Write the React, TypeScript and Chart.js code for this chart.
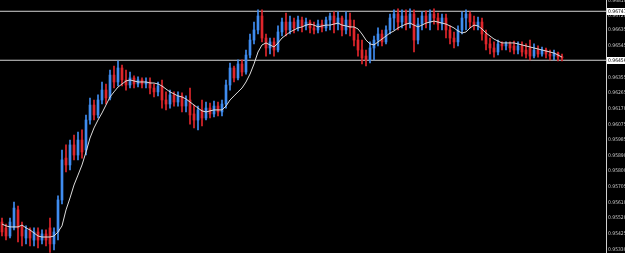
import React, { useEffect, useRef } from 'react';
import { Chart, registerables } from 'chart.js';

Chart.register(...registerables);

// Candle data (price), one candle per index
const opens = [
  0.95495, 0.95460, 0.95412, 0.95460, 0.95567, 0.95472, 0.95400, 0.95448, 0.95388, 0.95436,
  0.95388, 0.95424, 0.95460, 0.95365, 0.95436, 0.95626, 0.95875, 0.95834, 0.95953, 0.95893,
  0.95982, 0.95923, 0.96101, 0.96190, 0.96131, 0.96220, 0.96279, 0.96232, 0.96368, 0.96327,
  0.96410, 0.96339, 0.96309, 0.96351, 0.96315, 0.96339, 0.96315, 0.96327, 0.96291, 0.96268,
  0.96303, 0.96220, 0.96196, 0.96250, 0.96208, 0.96244, 0.96184, 0.96220, 0.96137, 0.96101,
  0.96161, 0.96113, 0.96172, 0.96137, 0.96184, 0.96149, 0.96196, 0.96309, 0.96410, 0.96351,
  0.96434, 0.96386, 0.96487, 0.96576, 0.96636, 0.96719, 0.96588, 0.96529, 0.96565, 0.96517,
  0.96624, 0.96683, 0.96636, 0.96683, 0.96648, 0.96695, 0.96660, 0.96683, 0.96648, 0.96636,
  0.96671, 0.96648, 0.96695, 0.96719, 0.96671, 0.96707, 0.96636, 0.96695, 0.96648, 0.96576,
  0.96517, 0.96481, 0.96458, 0.96529, 0.96576, 0.96612, 0.96565, 0.96636, 0.96707, 0.96731,
  0.96683, 0.96719, 0.96671, 0.96731, 0.96576, 0.96671, 0.96719, 0.96683, 0.96731, 0.96707,
  0.96671, 0.96707, 0.96636, 0.96588, 0.96565, 0.96636, 0.96707, 0.96731, 0.96683, 0.96660,
  0.96683, 0.96612, 0.96553, 0.96529, 0.96505, 0.96553, 0.96541, 0.96553, 0.96541, 0.96517,
  0.96541, 0.96517, 0.96529, 0.96481, 0.96517, 0.96493, 0.96517, 0.96493, 0.96481, 0.96499,
  0.96475,
];
const highs = [
  0.95519, 0.95483, 0.95519, 0.95614, 0.95590, 0.95495, 0.95472, 0.95460, 0.95460, 0.95460,
  0.95448, 0.95448, 0.95519, 0.95460, 0.95650, 0.95923, 0.95953, 0.95982, 0.96012, 0.96030,
  0.96042, 0.96131, 0.96232, 0.96220, 0.96250, 0.96327, 0.96315, 0.96398, 0.96422, 0.96452,
  0.96428, 0.96398, 0.96386, 0.96363, 0.96357, 0.96351, 0.96351, 0.96351, 0.96315, 0.96327,
  0.96339, 0.96268, 0.96279, 0.96268, 0.96268, 0.96262, 0.96244, 0.96291, 0.96190, 0.96184,
  0.96220, 0.96208, 0.96202, 0.96214, 0.96208, 0.96220, 0.96339, 0.96440, 0.96422, 0.96458,
  0.96458, 0.96517, 0.96612, 0.96683, 0.96755, 0.96755, 0.96612, 0.96588, 0.96588, 0.96660,
  0.96707, 0.96737, 0.96719, 0.96707, 0.96719, 0.96713, 0.96707, 0.96695, 0.96683, 0.96695,
  0.96695, 0.96713, 0.96737, 0.96743, 0.96743, 0.96719, 0.96743, 0.96737, 0.96695, 0.96612,
  0.96576, 0.96517, 0.96565, 0.96600, 0.96648, 0.96636, 0.96660, 0.96731, 0.96755, 0.96761,
  0.96755, 0.96755, 0.96761, 0.96755, 0.96707, 0.96743, 0.96749, 0.96755, 0.96761, 0.96737,
  0.96731, 0.96731, 0.96660, 0.96624, 0.96660, 0.96743, 0.96755, 0.96743, 0.96719, 0.96713,
  0.96707, 0.96636, 0.96588, 0.96565, 0.96576, 0.96565, 0.96565, 0.96565, 0.96570, 0.96565,
  0.96565, 0.96553, 0.96576, 0.96553, 0.96541, 0.96535, 0.96529, 0.96517, 0.96517, 0.96505,
  0.96493,
];
const lows = [
  0.95412, 0.95388, 0.95400, 0.95448, 0.95377, 0.95353, 0.95365, 0.95353, 0.95353, 0.95341,
  0.95365, 0.95353, 0.95315, 0.95329, 0.95388, 0.95602, 0.95792, 0.95804, 0.95864, 0.95864,
  0.95875, 0.95893, 0.96077, 0.96101, 0.96113, 0.96196, 0.96196, 0.96220, 0.96291, 0.96303,
  0.96303, 0.96279, 0.96291, 0.96291, 0.96297, 0.96291, 0.96291, 0.96256, 0.96238, 0.96244,
  0.96172, 0.96161, 0.96172, 0.96184, 0.96184, 0.96149, 0.96149, 0.96077, 0.96054, 0.96042,
  0.96066, 0.96101, 0.96113, 0.96119, 0.96125, 0.96125, 0.96172, 0.96279, 0.96327, 0.96339,
  0.96363, 0.96374, 0.96470, 0.96553, 0.96612, 0.96565, 0.96481, 0.96493, 0.96481, 0.96505,
  0.96600, 0.96600, 0.96612, 0.96618, 0.96630, 0.96624, 0.96636, 0.96618, 0.96612, 0.96618,
  0.96624, 0.96630, 0.96636, 0.96618, 0.96636, 0.96600, 0.96612, 0.96600, 0.96541, 0.96481,
  0.96434, 0.96422, 0.96440, 0.96458, 0.96541, 0.96541, 0.96553, 0.96612, 0.96636, 0.96636,
  0.96648, 0.96636, 0.96648, 0.96505, 0.96553, 0.96636, 0.96648, 0.96636, 0.96671, 0.96636,
  0.96636, 0.96588, 0.96553, 0.96529, 0.96541, 0.96612, 0.96636, 0.96648, 0.96636, 0.96636,
  0.96576, 0.96517, 0.96493, 0.96475, 0.96487, 0.96517, 0.96517, 0.96505, 0.96493, 0.96493,
  0.96481, 0.96470, 0.96458, 0.96470, 0.96475, 0.96481, 0.96470, 0.96458, 0.96458, 0.96452,
  0.96452,
];
const closes = [
  0.95436, 0.95412, 0.95495, 0.95578, 0.95460, 0.95412, 0.95448, 0.95400, 0.95436, 0.95388,
  0.95424, 0.95388, 0.95365, 0.95436, 0.95626, 0.95864, 0.95834, 0.95953, 0.95893, 0.95982,
  0.95911, 0.96101, 0.96190, 0.96131, 0.96220, 0.96279, 0.96232, 0.96368, 0.96327, 0.96410,
  0.96339, 0.96309, 0.96351, 0.96315, 0.96339, 0.96315, 0.96327, 0.96291, 0.96268, 0.96303,
  0.96220, 0.96196, 0.96250, 0.96208, 0.96244, 0.96184, 0.96220, 0.96131, 0.96101, 0.96161,
  0.96113, 0.96172, 0.96137, 0.96184, 0.96149, 0.96196, 0.96309, 0.96410, 0.96351, 0.96434,
  0.96386, 0.96487, 0.96576, 0.96636, 0.96719, 0.96588, 0.96529, 0.96565, 0.96517, 0.96624,
  0.96683, 0.96636, 0.96683, 0.96648, 0.96695, 0.96660, 0.96683, 0.96648, 0.96636, 0.96671,
  0.96648, 0.96695, 0.96719, 0.96671, 0.96707, 0.96636, 0.96695, 0.96648, 0.96576, 0.96517,
  0.96470, 0.96458, 0.96529, 0.96576, 0.96612, 0.96565, 0.96636, 0.96707, 0.96731, 0.96683,
  0.96719, 0.96671, 0.96731, 0.96576, 0.96671, 0.96719, 0.96683, 0.96731, 0.96707, 0.96671,
  0.96707, 0.96636, 0.96588, 0.96565, 0.96636, 0.96707, 0.96731, 0.96683, 0.96660, 0.96683,
  0.96612, 0.96553, 0.96529, 0.96505, 0.96553, 0.96541, 0.96553, 0.96529, 0.96517, 0.96541,
  0.96505, 0.96493, 0.96481, 0.96517, 0.96493, 0.96517, 0.96493, 0.96481, 0.96499, 0.96475,
  0.96470,
];
// Moving average (white line)
const maValues = [
  0.95483, 0.95472, 0.95466, 0.95466, 0.95466, 0.95477, 0.95460, 0.95448, 0.95430, 0.95412,
  0.95406, 0.95406, 0.95406, 0.95412, 0.95436, 0.95472, 0.95567, 0.95638, 0.95715, 0.95774,
  0.95834, 0.95911, 0.95994, 0.96054, 0.96101, 0.96143, 0.96190, 0.96238, 0.96268, 0.96297,
  0.96315, 0.96333, 0.96339, 0.96333, 0.96327, 0.96327, 0.96327, 0.96321, 0.96321, 0.96315,
  0.96303, 0.96285, 0.96268, 0.96256, 0.96244, 0.96238, 0.96226, 0.96208, 0.96190, 0.96172,
  0.96155, 0.96149, 0.96155, 0.96161, 0.96161, 0.96161, 0.96184, 0.96220, 0.96244, 0.96268,
  0.96291, 0.96327, 0.96374, 0.96434, 0.96505, 0.96547, 0.96559, 0.96547, 0.96535, 0.96559,
  0.96588, 0.96606, 0.96624, 0.96636, 0.96648, 0.96654, 0.96665, 0.96671, 0.96665, 0.96654,
  0.96660, 0.96665, 0.96665, 0.96671, 0.96677, 0.96665, 0.96660, 0.96654, 0.96654, 0.96642,
  0.96612, 0.96576, 0.96553, 0.96547, 0.96565, 0.96582, 0.96600, 0.96618, 0.96630, 0.96648,
  0.96660, 0.96671, 0.96677, 0.96665, 0.96654, 0.96665, 0.96677, 0.96683, 0.96689, 0.96683,
  0.96677, 0.96671, 0.96660, 0.96648, 0.96630, 0.96618, 0.96624, 0.96648, 0.96665, 0.96660,
  0.96642, 0.96618, 0.96600, 0.96582, 0.96570, 0.96559, 0.96559, 0.96559, 0.96559, 0.96553,
  0.96547, 0.96541, 0.96535, 0.96529, 0.96523, 0.96517, 0.96511, 0.96505, 0.96499, 0.96487,
  0.96475,
];
// Horizontal level lines
const levelLines = [0.96747, 0.96456];
// Right axis tick labels
const tickValues = [
  0.9681, 0.9672, 0.96635, 0.96545, 0.9645, 0.96355, 0.96265, 0.9617, 0.96075,
  0.95985, 0.9589, 0.958, 0.95705, 0.9561, 0.9552, 0.95425, 0.9533,
];
const yMin = 0.95311;
const yMax = 0.96814;
const xMin = -0.5;
const xMax = 151;

const BLUE = '#3f8cf0';
const RED = '#e0262c';
const LABEL_FONT = '"Liberation Sans Narrow", "DejaVu Sans Condensed", "Liberation Sans", Arial, sans-serif';

export default function App() {
  const ref = useRef<HTMLCanvasElement | null>(null);

  useEffect(() => {
    document.body.style.margin = '0';
    document.body.style.background = '#000';
    const idx = closes.map((_, i) => i);
    const colors = idx.map((i) => (closes[i] >= opens[i] ? BLUE : RED));
    const wickData = idx.map((i) => ({ x: i, y: [lows[i], highs[i]] }));
    const bodyData = idx.map((i) => ({
      x: i,
      y: [Math.min(opens[i], closes[i]), Math.max(opens[i], closes[i])],
    }));
    const maData = idx.map((i) => ({ x: i, y: maValues[i] }));

    const levelLabelPlugin = {
      id: 'levelLabels',
      afterDraw(chart: any) {
        const { ctx, chartArea, scales } = chart;
        ctx.save();
        ctx.font = '5px ' + LABEL_FONT;
        ctx.textBaseline = 'middle';
        ctx.textAlign = 'left';
        levelLines.forEach((lv) => {
          const y = Math.round(scales.y.getPixelForValue(lv));
          ctx.fillStyle = '#ffffff';
          ctx.fillRect(chartArea.right + 1, y - 3, 18, 7);
          ctx.fillStyle = '#000000';
          ctx.fillText(lv.toFixed(5), chartArea.right + 2, y + 0.5);
        });
        ctx.restore();
      },
    };

    const chart = new Chart(ref.current as HTMLCanvasElement, {
      type: 'bar',
      data: {
        datasets: [
          ...levelLines.map((lv) => ({
            type: 'line' as const,
            data: [
              { x: xMin, y: lv },
              { x: xMax, y: lv },
            ],
            borderColor: '#d4d4d4',
            borderWidth: 1,
            pointRadius: 0,
            order: 5,
          })),
          {
            type: 'bar' as const,
            data: wickData as any,
            backgroundColor: colors,
            barThickness: 1,
            grouped: false,
            borderWidth: 0,
            order: 3,
          },
          {
            type: 'bar' as const,
            data: bodyData as any,
            backgroundColor: colors,
            barThickness: 2,
            grouped: false,
            minBarLength: 1,
            borderWidth: 0,
            order: 2,
          },
          {
            type: 'line' as const,
            data: maData,
            borderColor: '#dcdcdc',
            borderWidth: 1,
            pointRadius: 0,
            tension: 0,
            order: 1,
          },
        ] as any,
      },
      options: {
        animation: false,
        responsive: true,
        maintainAspectRatio: false,
        devicePixelRatio: 1,
        layout: { padding: 0 },
        plugins: { legend: { display: false }, tooltip: { enabled: false } },
        scales: {
          x: {
            type: 'linear',
            display: false,
            min: xMin,
            max: xMax,
            offset: false,
          },
          y: {
            position: 'right',
            min: yMin,
            max: yMax,
            afterBuildTicks: (s: any) => {
              s.ticks = tickValues.map((v) => ({ value: v }));
            },
            afterFit: (s: any) => {
              s.width = 19;
              s.paddingTop = 0;
              s.paddingBottom = 0;
            },
            ticks: {
              color: '#c8c8c8',
              font: { size: 5, family: LABEL_FONT },
              padding: 1,
              autoSkip: false,
              callback: (v: any) => Number(v).toFixed(5),
            },
            grid: { drawOnChartArea: false, color: '#c8c8c8', tickLength: 1 },
            border: { color: '#d0d0d0', width: 1 },
          },
        },
      } as any,
      plugins: [levelLabelPlugin],
    });
    return () => chart.destroy();
  }, []);

  return (
    <div style={{ position: 'fixed', left: 0, top: 0, width: 625, height: 253, background: '#000' }}>
      <canvas ref={ref} />
    </div>
  );
}
